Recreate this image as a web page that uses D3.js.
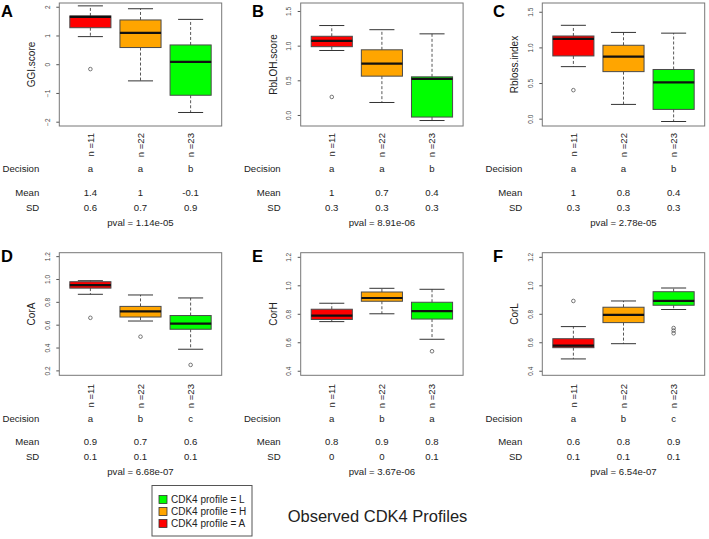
<!DOCTYPE html>
<html><head><meta charset="utf-8">
<script src="https://cdn.jsdelivr.net/npm/d3@7"></script>
<style>body{margin:0;background:#fff} svg{display:block;font-family:"Liberation Sans",Arial,sans-serif}</style>
</head><body><svg id="c" width="709" height="539"></svg>
<script>
const profiles = ["A","H","L"];
const profileColors = ["#ff0000","#ffa500","#00ff00"];
const nLabels = ["n =11","n =22","n =23"];
const panelLetters = ["A","B","C","D","E","F"];
const yTitles = ["GGI.score","RbLOH.score","Rbloss.index","CorA","CorH","CorL"];
// [lower whisker, Q1, median, Q3, upper whisker] per profile (A, H, L)
const ggiStats = [[0.96,1.27,1.65,1.68,2.03],[-0.58,0.58,1.09,1.54,1.93],[-1.68,-1.08,0.08,0.67,1.56]];
const ggiOut = [[-0.17],[],[]];
const rblohStats = [[0.93,0.985,1.07,1.135,1.29],[0.18,0.56,0.74,0.94,1.23],[-0.08,-0.03,0.52,0.55,1.17]];
const rblohOut = [[0.26],[],[]];
const rblossStats = [[0.73,0.88,1.12,1.16,1.31],[0.20,0.66,0.87,1.03,1.21],[-0.04,0.13,0.51,0.69,1.20]];
const rblossOut = [[0.40],[],[]];
const corAStats = [[0.866,0.92,0.947,0.976,0.985],[0.632,0.667,0.717,0.76,0.86],[0.385,0.56,0.61,0.68,0.834]];
const corAOut = [[0.66],[0.495],[0.248]];
const corHStats = [[0.745,0.76,0.787,0.832,0.874],[0.80,0.888,0.911,0.953,0.979],[0.621,0.763,0.818,0.881,0.972]];
const corHOut = [[],[],[0.537]];
const corLStats = [[0.483,0.562,0.576,0.625,0.71],[0.59,0.738,0.792,0.846,0.89],[0.83,0.86,0.89,0.955,0.981]];
const corLOut = [[0.89],[],[0.70,0.682,0.663]];
const decisions = [["a","a","b"],["a","a","b"],["a","a","b"],["a","b","c"],["a","b","a"],["a","b","c"]];
const means = [["1.4","1","-0.1"],["1","0.7","0.4"],["1","0.8","0.4"],["0.9","0.7","0.6"],["0.8","0.9","0.8"],["0.6","0.8","0.9"]];
const sds = [["0.6","0.7","0.9"],["0.3","0.3","0.3"],["0.3","0.3","0.3"],["0.1","0.1","0.1"],["0","0","0.1"],["0.1","0.1","0.1"]];
const pvals = ["1.14e-05","8.91e-06","2.78e-05","6.68e-07","3.67e-06","6.54e-07"];
const yTicks = [[-2,-1,0,1,2],[0,0.5,1,1.5],[0,0.5,1,1.5],[0.2,0.4,0.6,0.8,1,1.2],[0.4,0.6,0.8,1,1.2],[0.4,0.6,0.8,1,1.2]];
const yDomains = [[-2.15,2.13],[-0.159,1.615],[-0.103,1.623],[0.157,1.23],[0.368,1.229],[0.368,1.229]];
const legendLabels = ["CDK4 profile = L","CDK4 profile = H","CDK4 profile = A"];
const legendColors = ["#00ff00","#ffa500","#ff0000"];
const chartTitle = "Observed CDK4 Profiles";

const allStats = [ggiStats, rblohStats, rblossStats, corAStats, corHStats, corLStats];
const allOut = [ggiOut, rblohOut, rblossOut, corAOut, corHOut, corLOut];

const svg = d3.select("#c");
const colLeft = [59.3, 300.7, 542.3];
const plotW = 162.4;
const rowTop = [3, 252.7], rowBottom = [126, 375.3];
const nEnd = [133, 384];
const rowDec = [172, 421.5], rowMean = [195.5, 444.5], rowSD = [210.5, 460], rowP = [225.5, 474.5];
const letterX = [1, 252, 493];
const FS = 9.6;
const txtCol = "#222";

for (let p = 0; p < 6; p++) {
  const c = p % 3, r = Math.floor(p / 3);
  const left = colLeft[c], top = rowTop[r], bottom = rowBottom[r];
  const x = d3.scaleLinear().domain([0.38, 3.62]).range([left, left + plotW]);
  const y = d3.scaleLinear().domain(yDomains[p]).range([bottom, top]);
  const g = svg.append("g");
  const hw = x(1.41) - x(1);
  const cw = x(1.25) - x(1);

  // axis
  const fmt = p === 0 ? d3.format("d") : d3.format(".1f");
  const ax = g.append("g").attr("transform", `translate(${left},0)`)
    .call(d3.axisLeft(y).tickValues(yTicks[p]).tickSize(3).tickFormat(fmt));
  ax.select(".domain").remove();
  ax.selectAll(".tick line").attr("stroke", "#555");
  ax.selectAll(".tick text").attr("x", null).attr("dy", null)
    .attr("transform", "translate(-9.5,0) rotate(-90)")
    .attr("text-anchor", "middle").attr("fill", "#444")
    .style("font-size", "6.5px").style("font-family", "Liberation Sans, Arial, sans-serif");

  // boxes
  allStats[p].forEach((s, i) => {
    const cx = x(i + 1);
    // whiskers
    g.append("line").attr("x1", cx).attr("x2", cx).attr("y1", y(s[3])).attr("y2", y(s[4]))
      .attr("stroke", "#444").attr("stroke-width", 0.9).attr("stroke-dasharray", "3,2");
    g.append("line").attr("x1", cx).attr("x2", cx).attr("y1", y(s[1])).attr("y2", y(s[0]))
      .attr("stroke", "#444").attr("stroke-width", 0.9).attr("stroke-dasharray", "3,2");
    g.append("line").attr("x1", cx - cw).attr("x2", cx + cw).attr("y1", y(s[4])).attr("y2", y(s[4]))
      .attr("stroke", "#333").attr("stroke-width", 1);
    g.append("line").attr("x1", cx - cw).attr("x2", cx + cw).attr("y1", y(s[0])).attr("y2", y(s[0]))
      .attr("stroke", "#333").attr("stroke-width", 1);
    g.append("rect").attr("x", cx - hw).attr("width", 2 * hw)
      .attr("y", y(s[3])).attr("height", y(s[1]) - y(s[3]))
      .attr("fill", profileColors[i]).attr("stroke", "#4a4a4a").attr("stroke-width", 1);
    g.append("line").attr("x1", cx - hw).attr("x2", cx + hw).attr("y1", y(s[2])).attr("y2", y(s[2]))
      .attr("stroke", "#111").attr("stroke-width", 2.2);
    allOut[p][i].forEach(v => {
      g.append("circle").attr("cx", cx).attr("cy", y(v)).attr("r", 1.8)
        .attr("fill", "none").attr("stroke", "#555").attr("stroke-width", 0.8);
    });
    // n labels
    g.append("text").attr("transform", `translate(${cx + 3.4},${nEnd[r]}) rotate(-90)`)
      .attr("text-anchor", "end").attr("fill", txtCol).style("font-size", FS + "px").text(nLabels[i]);
    g.append("text").attr("x", cx).attr("y", rowDec[r]).attr("text-anchor", "middle")
      .attr("fill", txtCol).style("font-size", FS + "px").text(decisions[p][i]);
    g.append("text").attr("x", cx).attr("y", rowMean[r]).attr("text-anchor", "middle")
      .attr("fill", txtCol).style("font-size", FS + "px").text(means[p][i]);
    g.append("text").attr("x", cx).attr("y", rowSD[r]).attr("text-anchor", "middle")
      .attr("fill", txtCol).style("font-size", FS + "px").text(sds[p][i]);
  });

  // frame
  g.append("rect").attr("x", left).attr("y", top).attr("width", plotW).attr("height", bottom - top)
    .attr("fill", "none").attr("stroke", "#777").attr("stroke-width", 1);

  // y title
  g.append("text").attr("transform", `translate(${left - 24},${(top + bottom) / 2}) rotate(-90)`)
    .attr("text-anchor", "middle").attr("fill", txtCol).style("font-size", "10px").text(yTitles[p]);

  // row labels
  const lx = left - 20;
  [["Decision", rowDec[r]], ["Mean", rowMean[r]], ["SD", rowSD[r]]].forEach(([t, yy]) => {
    g.append("text").attr("x", lx).attr("y", yy).attr("text-anchor", "end")
      .attr("fill", txtCol).style("font-size", FS + "px").text(t);
  });
  g.append("text").attr("x", x(2)).attr("y", rowP[r]).attr("text-anchor", "middle")
    .attr("fill", txtCol).style("font-size", FS + "px").text("pval = " + pvals[p]);

  // panel letter
  g.append("text").attr("x", letterX[c]).attr("y", r === 0 ? 17 : 262)
    .attr("fill", "#000").style("font-size", "16.5px").style("font-weight", "bold").text(panelLetters[p]);
}

// legend
const lg = svg.append("g");
lg.append("rect").attr("x", 152).attr("y", 485.5).attr("width", 100).attr("height", 50.5)
  .attr("fill", "#fff").attr("stroke", "#555").attr("stroke-width", 1);
legendLabels.forEach((t, i) => {
  const cy = 499.5 + i * 12;
  lg.append("rect").attr("x", 159).attr("y", cy - 4).attr("width", 8).attr("height", 8)
    .attr("fill", legendColors[i]).attr("stroke", "#333").attr("stroke-width", 0.8);
  lg.append("text").attr("x", 171).attr("y", cy + 3.6).attr("fill", txtCol)
    .style("font-size", "10px").text(t);
});
svg.append("text").attr("x", 377.5).attr("y", 522).attr("text-anchor", "middle")
  .attr("fill", txtCol).style("font-size", "16.5px").text(chartTitle);
</script>
</body></html>
